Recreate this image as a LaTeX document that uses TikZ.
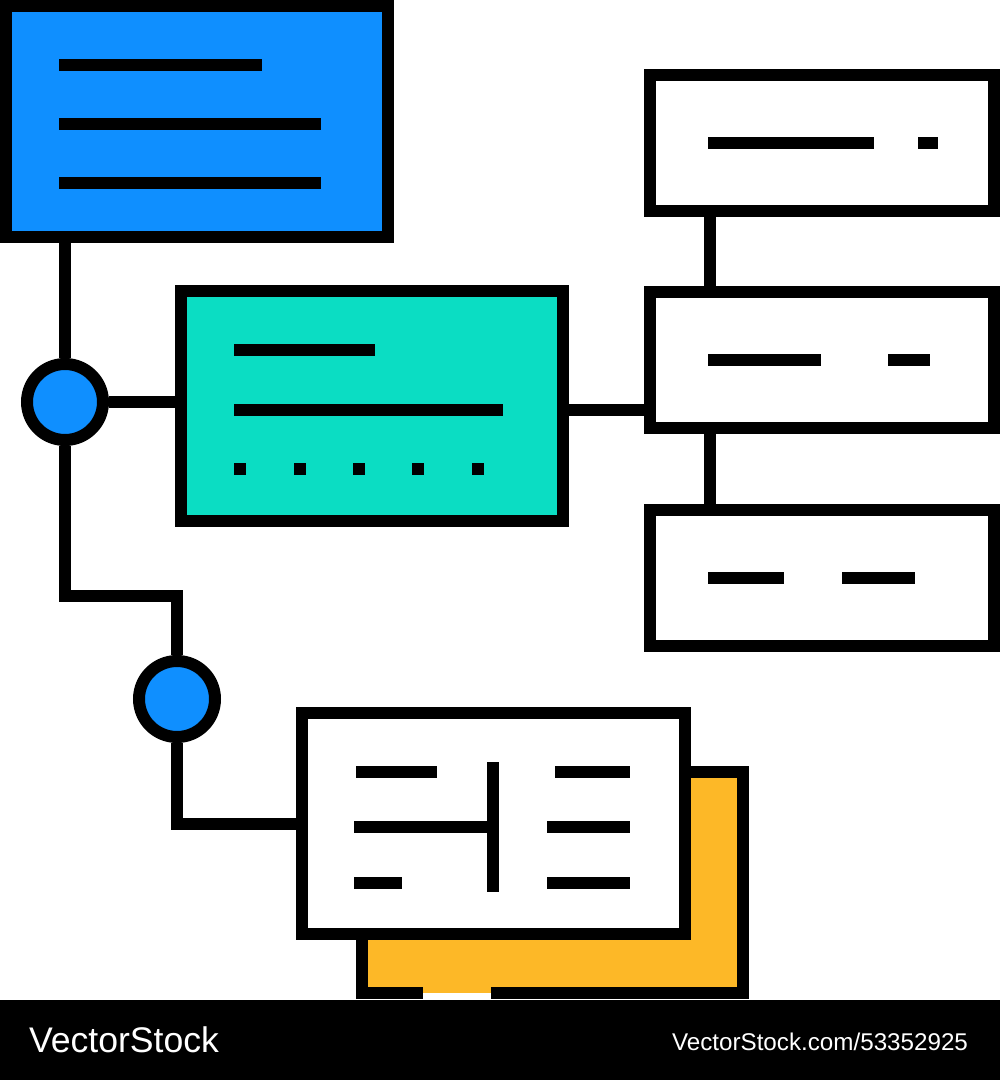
\documentclass[tikz,border=0pt]{standalone}
\usepackage{fontspec}
\newfontfamily\wmfont{Liberation Sans}
\usetikzlibrary{positioning}
\definecolor{boxblue}{HTML}{0F8FFF}
\definecolor{boxteal}{HTML}{0BDDC3}
\definecolor{boxyellow}{HTML}{FDB827}

\begin{document}
\begin{tikzpicture}[x=0.5pt, y=-0.5pt, line width=6pt] %Organigramme
            \tikzstyle{mainbox} = [rectangle, draw, inner sep=0pt, minimum width=191pt, minimum height=115.5pt]
            \tikzstyle{sidebox} = [rectangle, draw, inner sep=0pt, minimum width=172pt, minimum height=68pt, fill=white]
            \tikzstyle{joint} = [circle, draw, inner sep=0pt, minimum size=38pt, fill=boxblue]
            \tikzstyle{bar} = [line width=6pt]
            \useasboundingbox (0,0) rectangle (1000,1080);
            \node[mainbox, fill=boxblue] (B) at (197,121.5) {};
            \node[mainbox, fill=boxteal, minimum height=115pt] (G) at (372,406) {};
            \node[sidebox] (R1) at (822,143) {};
            \node[sidebox] (R2) at (822,360) {};
            \node[sidebox] (R3) at (822,578) {};
            \node[joint] (C1) at (65,402) {};
            \node[joint] (C2) at (177,699) {};
            \node[mainbox, fill=boxyellow, minimum width=190.5pt, minimum height=110.5pt] (Y) at (552.5,882.5) {};
            \node[mainbox, fill=white, minimum width=191.5pt, minimum height=110.5pt] (W) at (493.5,823.5) {};
            \coordinate (K) at (65,596);
            \draw (C1) -- (C1 |- B.south);
            \draw (C1) -- (C1 -| G.west);
            \draw (C1) -- (K) -| (C2);
            \draw (C2) |- (W.west);
            \draw ([yshift=-2pt]G.east) -- ([yshift=-2pt]G.east -| R2.west);
            \draw ([xshift=33pt]R1.south west) -- ([xshift=33pt]R2.north west);
            \draw ([xshift=33pt]R2.south west) -- ([xshift=33pt]R3.north west);
            \draw[bar] (59,65) -- (262,65) (59,124) -- (321,124) (59,183.5) -- (321,183.5);
            \draw[bar] (234,350) -- (375,350) (234,410) -- (503,410);
            \foreach \x in {240,300,359,418,478}
            {
                \fill (\x-6,463) rectangle (\x+6,475);
            }
            \draw[bar] (708,143) -- (874,143) (918,143) -- (938,143);
            \draw[bar] (708,360) -- (821,360) (888,360) -- (930,360);
            \draw[bar] (708,578) -- (784,578) (842,578) -- (915,578);
            \draw[bar] (356,772) -- (437,772) (555,772) -- (630,772);
            \draw[bar] (354,827) -- (493,827) (547,827) -- (630,827);
            \draw[bar] (354,883) -- (402,883) (547,883) -- (630,883);
            \draw[bar] (493,762) -- (493,892);
            \fill[boxyellow] (423,986) rectangle (491,993);
            \fill[white] (423,993) rectangle (491,1000);
            \fill[black] (0,1000) rectangle (1000,1080);
            \node[text=white, font=\wmfont\fontsize{17.8}{20}\selectfont, inner sep=0pt, anchor=base west] (L1) at (23,1052) {VectorStock};
            \node[text=white, font=\wmfont\fontsize{12.1}{14}\selectfont, inner sep=0pt, anchor=base west] (L2) at (666,1050) {VectorStock.com/53352925};
\end{tikzpicture}
\end{document}
